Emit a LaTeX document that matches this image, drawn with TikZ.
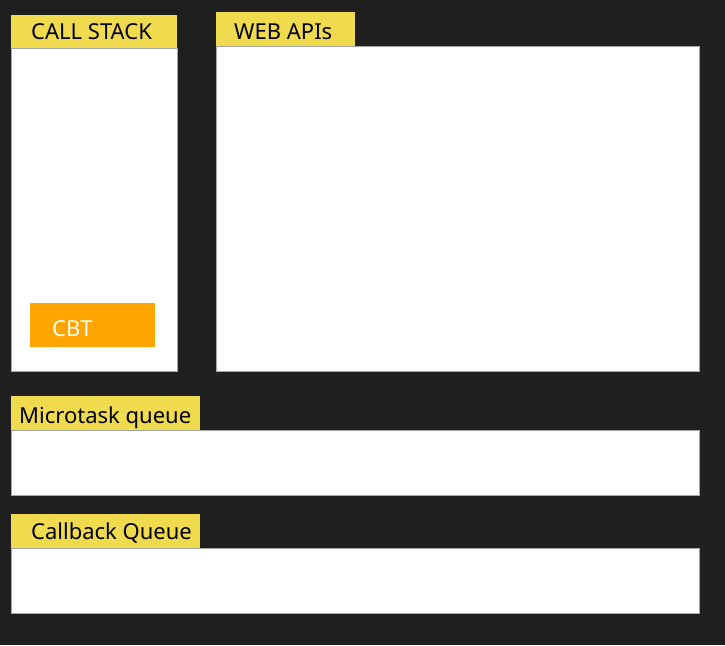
\documentclass[tikz,border=0pt]{standalone}
\usepackage{fontspec}
\setmainfont{Noto Sans}
\definecolor{bgdark}{HTML}{1F1F1F}
\definecolor{jsyellow}{HTML}{F0DB4F}
\definecolor{cbtorange}{HTML}{FFA500}
\tikzset{
  panel/.style={fill=white,draw=gray!70,line width=0.6pt,anchor=north west,inner sep=0pt,outer sep=0pt},
  tab/.style={fill=jsyellow,anchor=north west,inner sep=0pt,outer sep=0pt},
  tabtext/.style={font=\fontsize{22}{26}\selectfont,text=black,inner sep=0pt,anchor=base west}
}
\begin{document}
\begin{tikzpicture}[x=1pt,y=-1pt]
  \fill[bgdark](0,0)rectangle(725,645);
  \useasboundingbox(0,0)rectangle(725,645);
  % call stack
  \node[panel,minimum width=166pt,minimum height=323pt](stack)at(11,48){};
  \node[tab,minimum width=166pt,minimum height=33pt](stacktab)at(11,15){};
  \node[tabtext](stacklbl)at(31,39){CALL STACK};
  \node[fill=cbtorange,anchor=north west,minimum width=125pt,minimum height=44pt,inner sep=0pt](cbt)at(30,303){};
  \node[tabtext,text=white](cbtlbl)at(52,336){CBT};
  % web apis
  \node[panel,minimum width=483pt,minimum height=325pt](webapi)at(216,46){};
  \node[tab,minimum width=139pt,minimum height=34pt](webtab)at(216,12){};
  \node[tabtext](weblbl)at(234,39){WEB APIs};
  % queues
  \node[panel,minimum width=688pt,minimum height=65pt](micro)at(11,430){};
  \node[tab,minimum width=189pt,minimum height=34pt](microtab)at(11,396){};
  \node[tabtext](microlbl)at(19,423){Microtask queue};
  \node[panel,minimum width=688pt,minimum height=65pt](callback)at(11,548){};
  \node[tab,minimum width=189pt,minimum height=34pt](callbacktab)at(11,514){};
  \node[tabtext](callbacklbl)at(31,539){Callback Queue};
\end{tikzpicture}
\end{document}
